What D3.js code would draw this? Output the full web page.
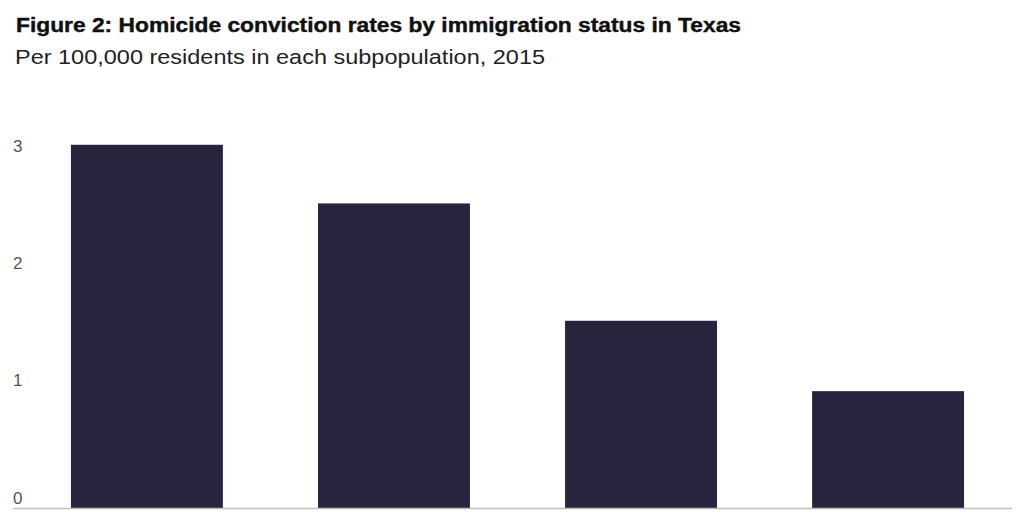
<!DOCTYPE html>
<html>
<head>
<meta charset="utf-8">
<script src="https://cdn.jsdelivr.net/npm/d3@7"></script>
<style>
  html, body { margin: 0; padding: 0; background: #ffffff; }
  svg { display: block; }
</style>
</head>
<body>
<svg id="chart" width="1024" height="512"></svg>
<script>
// ---- Data ----
const categories = ["Native-born Americans", "Illegal immigrants", "All immigrants", "Legal immigrants"];
const values = [3.1, 2.6, 1.6, 1.0];
const yTicks = [0, 1, 2, 3];
const titleText = "Figure 2: Homicide conviction rates by immigration status in Texas";
const subtitleText = "Per 100,000 residents in each subpopulation, 2015";

// ---- Layout ----
const W = 1024, H = 512;
const baseY = 508.5;
const svg = d3.select("#chart");

const x = d3.scaleBand()
  .domain(categories)
  .range([24, 1011])
  .paddingInner(0.385)
  .paddingOuter(0.19);

const y = d3.scaleLinear()
  .domain([0, 3])
  .range([baseY, baseY - 352]);

// Title
const title = svg.append("text")
  .attr("x", 16).attr("y", 31.7)
  .attr("font-family", "'Liberation Sans', Arial, sans-serif")
  .attr("font-weight", "bold")
  .attr("font-size", 19.5)
  .attr("fill", "#111")
  .attr("stroke", "#111").attr("stroke-width", 0.4)
  .text(titleText);
title.attr("textLength", 725).attr("lengthAdjust", "spacingAndGlyphs");

const sub = svg.append("text")
  .attr("x", 15).attr("y", 64.3)
  .attr("font-family", "'Liberation Sans', Arial, sans-serif")
  .attr("font-size", 20.5)
  .attr("fill", "#222")
  .text(subtitleText);
sub.attr("textLength", 530).attr("lengthAdjust", "spacingAndGlyphs");

// Bars
svg.append("g").selectAll("rect")
  .data(values)
  .join("rect")
  .attr("x", (d, i) => x(categories[i]))
  .attr("width", x.bandwidth())
  .attr("y", d => y(d))
  .attr("height", d => baseY - y(d))
  .attr("fill", "#29233d");

// Y axis tick labels (no line, labels above the value position)
const yAxis = d3.axisLeft(y).tickValues(yTicks).tickSize(0).tickFormat(d3.format("d"));
const gy = svg.append("g").call(yAxis);
gy.select(".domain").remove();
gy.selectAll(".tick text")
  .attr("x", 13)
  .attr("dy", -5.5)
  .attr("text-anchor", "start")
  .attr("font-family", "'Liberation Sans', Arial, sans-serif")
  .attr("font-size", 17)
  .attr("fill", "#555");

// Baseline
const xAxis = d3.axisBottom(x).tickSize(0).tickFormat("");
const gx = svg.append("g").attr("transform", `translate(0,${baseY})`).call(xAxis);
gx.select(".domain").remove();
svg.append("line")
  .attr("x1", 13).attr("x2", 1012)
  .attr("y1", baseY).attr("y2", baseY)
  .attr("stroke", "#bdbdbd").attr("stroke-width", 1.5);
</script>
</body>
</html>
